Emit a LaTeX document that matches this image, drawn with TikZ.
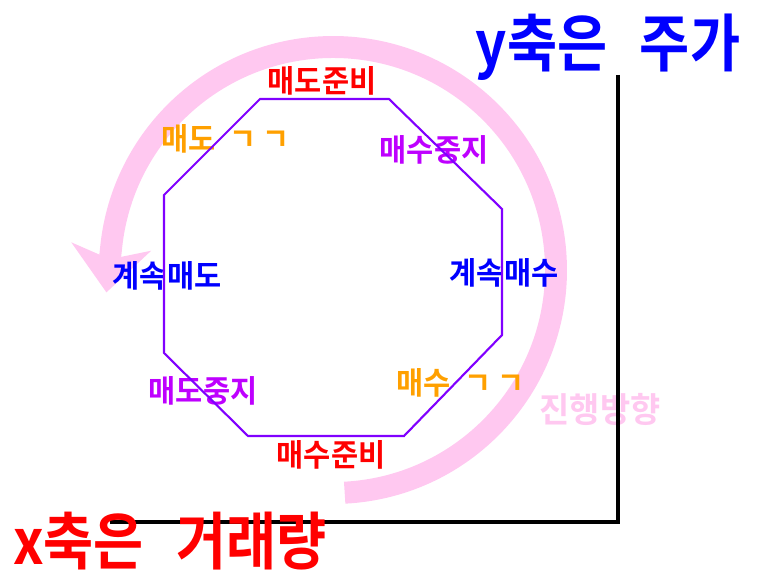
\documentclass[tikz,border=0pt]{standalone}
\usepackage{fontspec}
\newfontfamily\kr{Noto Sans CJK KR}[BoldFont={* Bold}]
\usetikzlibrary{arrows.meta}
\definecolor{octline}{RGB}{128,0,255}
\definecolor{violetlab}{RGB}{190,0,255}
\definecolor{golab}{RGB}{255,160,0}
\definecolor{pinkarc}{RGB}{255,200,240}
\begin{document}
\begin{tikzpicture}[x=0.02cm, y=-0.02cm, thick,
  lab/.style={font=\kr\bfseries\fontsize{16.8}{19}\selectfont, inner sep=0pt},
  axislab/.style={font=\kr\bfseries\fontsize{31}{34}\selectfont, inner sep=0pt}]
\useasboundingbox (0,0) rectangle (757,571);

\coordinate (turn) at (333,270);
\draw[pinkarc, line width=12.5pt, -{Stealth[length=26pt, width=45pt, inset=7pt]}] ([shift={(87:223)}]turn) arc[start angle=87, end angle=-174, radius=223] -- ++(-4.8,45.7);

\node[lab, pinkarc, font=\kr\bfseries\fontsize{18.7}{21}\selectfont] (way) at (600,409) {\scalebox{1}[1.05]{진행방향}};

\draw[line width=2.8pt] (618,75)--(618,522)--(110,522);

\node[axislab, blue] (ylab) at (608,47) {\scalebox{1}[1.15]{y축은\hspace{.6em}주가}};
\node[axislab, red] (xlab) at (170,541) {\scalebox{1}[1.15]{x축은\hspace{.6em}거래량}};

\node[lab, red] (sellready) at (322,81) {\scalebox{1}[1.05]{매도준비}};
\node[lab, violetlab] (buystop) at (434,150) {\scalebox{1}[1.05]{매수중지}};
\node[lab, blue] (keepbuy) at (504,273) {\scalebox{1}[1.05]{계속매수}};
\node[lab, golab, anchor=west] (buygo) at (396,383) {\scalebox{1}[1.05]{매수\hspace{.45em}ㄱ\hspace{.2em}ㄱ}};
\node[lab, red] (buyready) at (331,455) {\scalebox{1}[1.05]{매수준비}};
\node[lab, violetlab] (sellstop) at (203,391) {\scalebox{1}[1.05]{매도중지}};
\node[lab, blue] (keepsell) at (167,276) {\scalebox{1}[1.05]{계속매도}};
\node[lab, golab, anchor=west] (sellgo) at (161,139) {\scalebox{1}[1.05]{매도\hspace{.45em}ㄱ\hspace{.2em}ㄱ}};

\draw[octline, line width=1.2pt] (260,99)--(389,99)--(502,209)--(502,335)--(404,436)--(248,436)--(164,353)--(164,195)--cycle;

\end{tikzpicture}
\end{document}
